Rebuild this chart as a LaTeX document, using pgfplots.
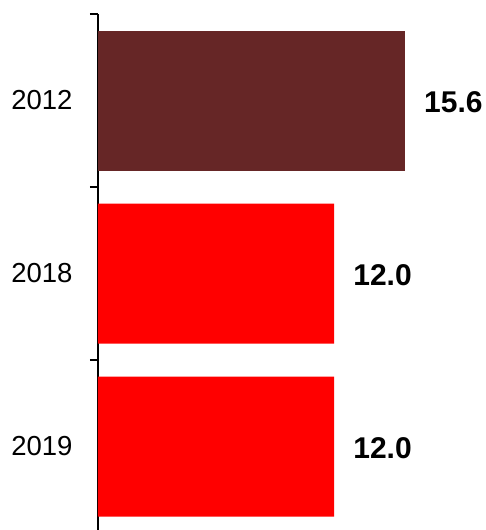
\documentclass[border=0pt]{standalone}
\usepackage{fontspec}
\setmainfont{Liberation Sans}
\usepackage{pgfplots}
\pgfplotsset{compat=1.18}
\definecolor{darkbrown}{RGB}{102,38,38}
\definecolor{pureRed}{RGB}{255,0,0}
\begin{document}
\begin{tikzpicture}[x=1pt,y=1pt]
\useasboundingbox (-98pt,3pt) rectangle (387pt,533pt);
\begin{axis}[
  at={(0pt,0pt)}, anchor=south west,
  scale only axis, width=383.8pt, height=519pt,
  xbar, bar width=140pt, bar shift=0pt,
  xmin=0, xmax=19.5,
  ymin=-0.5, ymax=2.5, y dir=reverse,
  hide x axis,
  axis y line=left, axis line style={-, line width=1.3pt, black},
  ytick={0,1,2}, yticklabels={2012,2018,2019},
  minor ytick={-0.5,0.5,1.5,2.5},
  major tick length=0pt, minor tick length=8pt,
  tick align=outside,
  minor tick style={line width=1.3pt, black},
  yticklabel style={font=\fontsize{27.5}{30}\selectfont, xshift=-22pt},
  /pgf/number format/assume math mode=true,
  nodes near coords,
  nodes near coords style={font=\fontsize{30}{34}\selectfont\bfseries, anchor=west, inner sep=0pt, xshift=19pt, yshift=-2pt, /pgf/number format/fixed, /pgf/number format/fixed zerofill, /pgf/number format/precision=1},
  clip=false,
]
\addplot[draw=none, fill=darkbrown] coordinates {(15.6,0)};
\addplot[draw=none, fill=pureRed] coordinates {(12.0,1) (12.0,2)};
\end{axis}
\end{tikzpicture}
\end{document}
